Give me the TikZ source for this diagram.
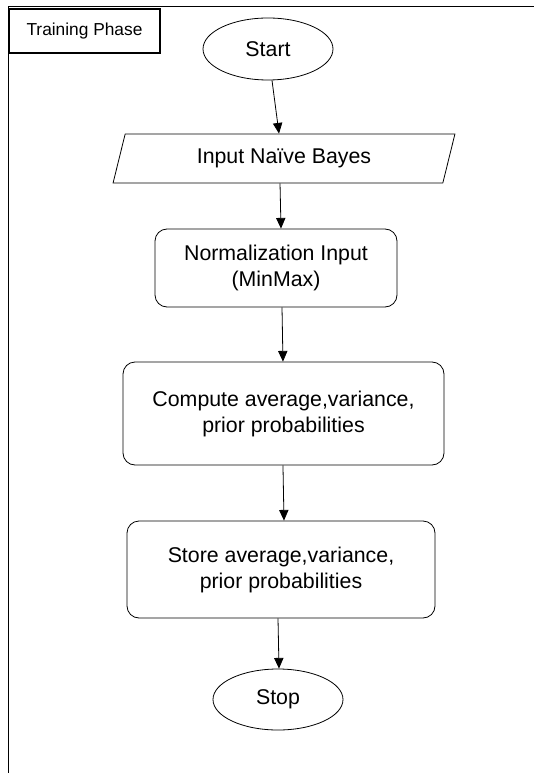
\documentclass[tikz,border=0pt]{standalone}
\usepackage{fontspec}
\setmainfont{Liberation Sans}
\usetikzlibrary{shapes.geometric,arrows.meta}

\begin{document}
\begin{tikzpicture}[x=0.75pt,y=0.75pt,yscale=-1,xscale=1,
    terminal/.style={draw,ellipse,line width=0.6pt,inner sep=0pt,font=\fontsize{16}{19.5}\selectfont},
    iobox/.style={draw,trapezium,trapezium left angle=76,trapezium right angle=104,trapezium stretches=true,line width=0.6pt,font=\fontsize{16}{19.5}\selectfont},
    procbox/.style={draw,rectangle,rounded corners=9pt,line width=0.6pt,align=center,font=\fontsize{16}{19.5}\selectfont},
    flow/.style={-{Triangle[length=8pt,width=7pt]},line width=0.6pt}]
        \useasboundingbox (0,0) rectangle (534,773);

        %Frame
        \draw [line width=0.75pt] (8.5,773) -- (8.5,7) -- (534,7) ;
        % Text Node
        \node [draw,line width=1.2pt,minimum width=113.25pt,minimum height=33pt,inner sep=0pt,font=\fontsize{13}{15}\selectfont] (phase) at (84.5,31) {Training Phase};

        %Shape: Ellipse
        \node [terminal,minimum width=97.5pt,minimum height=46.5pt] (start) at (268,49) {Start};
        %Shape: Parallelogram
        \node [iobox,minimum width=256.5pt,minimum height=36.75pt] (input) at (284,158.5) {Input Naïve Bayes};
        %Shape: Rounded Rect
        \node [procbox,minimum width=181.5pt,minimum height=58.5pt] (norm) at (276,268) {Normalization Input\\(MinMax)};
        %Shape: Rounded Rect
        \node [procbox,minimum width=240.75pt,minimum height=77.25pt] (compute) at (283.5,413.5) {Compute average,variance,\\prior probabilities};
        %Shape: Rounded Rect
        \node [procbox,minimum width=231pt,minimum height=72.75pt] (store) at (281,569.5) {Store average,variance,\\prior probabilities};
        %Shape: Ellipse
        \node [terminal,minimum width=97.5pt,minimum height=45.75pt] (stop) at (278,699.5) {Stop};

        %Straight Lines
        \draw [flow] ([xshift=3pt]start.south) -- ([xshift=-3.75pt]input.north) ;
        \draw [flow] ([xshift=-3pt]input.south) -- ([xshift=3.75pt]norm.north) ;
        \draw [flow] ([xshift=4.5pt]norm.south) -- ([xshift=-0.4pt]compute.north) ;
        \draw [flow] ([xshift=-0.4pt]compute.south) -- ([xshift=2.25pt]store.north) ;
        \draw [flow] ([xshift=-2.25pt]store.south) -- ([xshift=0.75pt]stop.north) ;

    \end{tikzpicture}
\end{document}
